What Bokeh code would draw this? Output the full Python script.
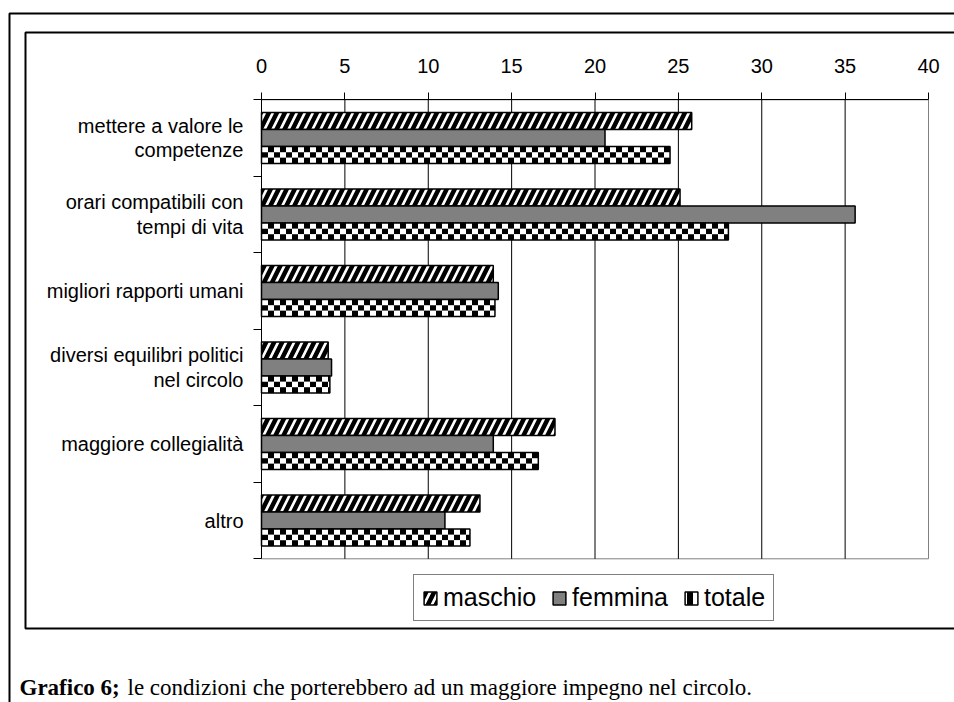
from bokeh.plotting import figure
from bokeh.models import (Range1d, FixedTicker, Legend, LegendItem, BoxAnnotation,
                          Label, LinearAxis)
from bokeh.embed import file_html
from bokeh.resources import INLINE
import numpy as np

# ---- data ----
categories = [
    "mettere a valore le\ncompetenze",
    "orari compatibili con\ntempi di vita",
    "migliori rapporti umani",
    "diversi equilibri politici\nnel circolo",
    "maggiore collegialità",
    "altro",
]
maschio = [25.8, 25.1, 13.9, 4.0, 17.6, 13.1]
femmina = [20.6, 35.6, 14.2, 4.2, 13.9, 11.0]
totale = [24.5, 28.0, 14.0, 4.1, 16.6, 12.5]
series_names = ["maschio", "femmina", "totale"]
x_ticks = [0, 5, 10, 15, 20, 25, 30, 35, 40]
caption_bold = "Grafico 6;"
caption_text = "le condizioni che porterebbero ad un maggiore impegno nel circolo."

# ---- layout (pixels) ----
W, H = 954, 702
PL, PR = 261.0, 928.0      # plot area left/right
PT, PB = 99.3, 558.3       # plot area top/bottom
n = len(categories)
x_min, x_max = x_ticks[0], x_ticks[-1]
xs = (PR - PL) / (x_max - x_min)
ys = (PB - PT) / n

p = figure(width=W, height=H, output_backend="svg", toolbar_location=None, tools="",
           x_range=Range1d(x_min - PL / xs, x_max + (W - PR) / xs),
           y_range=Range1d(n + (H - PB) / ys, -PT / ys),
           x_axis_location=None, y_axis_location=None,
           min_border=0, min_border_left=0, min_border_right=0,
           min_border_top=0, min_border_bottom=0)
p.background_fill_color = "white"
p.border_fill_color = "white"
p.outline_line_color = None
for g in p.grid:
    g.visible = False

# plot-area border and vertical gridlines
p.quad(left=x_min, right=x_max, top=0, bottom=n, fill_alpha=0,
       line_color="#808080", line_width=1)
grid_x = x_ticks[1:-1]
p.segment(x0=grid_x, y0=[0] * len(grid_x), x1=grid_x, y1=[n] * len(grid_x),
          line_color="black", line_width=1)

# ---- bars ----
idx = np.arange(n)
centers = idx + 0.5
bar_h = 0.222

r_m = p.hbar(y=centers - bar_h, right=maschio, left=0, height=bar_h, fill_color="white",
             line_color="black", line_width=1.5,
             hatch_pattern="/", hatch_color="black", hatch_scale=16, hatch_weight=4.5)
r_f = p.hbar(y=centers, right=femmina, left=0, height=bar_h, fill_color="#808080",
             line_color="black", line_width=1.5)

# totale: checkerboard = three strips with alternating column phase
CHK = 12
strips = []
for k in range(3):
    dark = (k % 2 == 1)
    s = p.hbar(y=centers + bar_h + (k - 1) * bar_h / 3, right=totale, left=0, height=bar_h / 3,
               fill_color="black" if dark else "white", line_color=None,
               hatch_pattern="vertical_line", hatch_color="white" if dark else "black",
               hatch_scale=CHK, hatch_weight=CHK / 2)
    strips.append(s)
r_t = p.hbar(y=centers + bar_h, right=totale, left=0, height=bar_h, fill_alpha=0,
             line_color="black", line_width=1.5)

# ---- axes (fixed at the plot-area edges) ----
xa = LinearAxis(fixed_location=0, bounds=(x_min, x_max), ticker=FixedTicker(ticks=x_ticks))
xa.major_tick_out = 7
xa.major_tick_in = 0
xa.minor_tick_out = 0
xa.minor_tick_in = 0
xa.axis_line_color = "black"
xa.major_tick_line_color = "black"
xa.major_label_text_font = "Liberation Sans"
xa.major_label_text_font_size = "20px"
xa.major_label_text_color = "black"
xa.major_label_standoff = 20
p.add_layout(xa, "above")

ya = LinearAxis(fixed_location=0, bounds=(0, n),
                ticker=FixedTicker(ticks=list(centers), minor_ticks=list(range(n + 1))))
ya.major_label_overrides = {float(c): lab for c, lab in zip(centers, categories)}
ya.major_tick_out = 0
ya.major_tick_in = 0
ya.minor_tick_out = 8
ya.minor_tick_in = 0
ya.minor_tick_line_color = "black"
ya.axis_line_color = "black"
ya.major_label_text_font = "Liberation Sans"
ya.major_label_text_font_size = "20px"
ya.major_label_text_color = "black"
ya.major_label_text_align = "center"
ya.major_label_text_line_height = 1.1
ya.major_label_standoff = 10
p.add_layout(ya, "left")

# ---- legend ----
legend = Legend(items=[LegendItem(label=series_names[0], renderers=[r_m]),
                       LegendItem(label=series_names[1], renderers=[r_f]),
                       LegendItem(label=series_names[2], renderers=[strips[0], r_t])],
                orientation="horizontal", location=(413, H - 621),
                label_text_font="Liberation Sans", label_text_font_size="25px",
                label_text_color="black",
                glyph_width=16, glyph_height=16, label_standoff=5, spacing=15,
                padding=8, margin=0, border_line_color="black", border_line_width=1,
                background_fill_color="white", background_fill_alpha=1)
p.add_layout(legend)

# ---- frames ----
box_units = dict(left_units="canvas", right_units="canvas", top_units="canvas", bottom_units="canvas")
outer = BoxAnnotation(left=9, right=W + 20, top=13, bottom=H + 20, fill_alpha=0,
                      line_color="black", line_width=2, line_alpha=1, **box_units)
inner = BoxAnnotation(left=25, right=W + 20, top=32, bottom=628, fill_alpha=0,
                      line_color="black", line_width=2, line_alpha=1, **box_units)
p.add_layout(outer)
p.add_layout(inner)

# ---- caption ----
cap1 = Label(x=19, y=687, x_units="canvas", y_units="canvas", text=caption_bold,
             text_font="Liberation Serif", text_font_style="bold", text_font_size="23px",
             text_baseline="alphabetic", text_color="black")
cap2 = Label(x=127, y=687, x_units="canvas", y_units="canvas", text=caption_text,
             text_font="Liberation Serif", text_font_size="23px",
             text_baseline="alphabetic", text_color="black")
p.add_layout(cap1)
p.add_layout(cap2)

open("out.html", "w").write(file_html(p, INLINE))
